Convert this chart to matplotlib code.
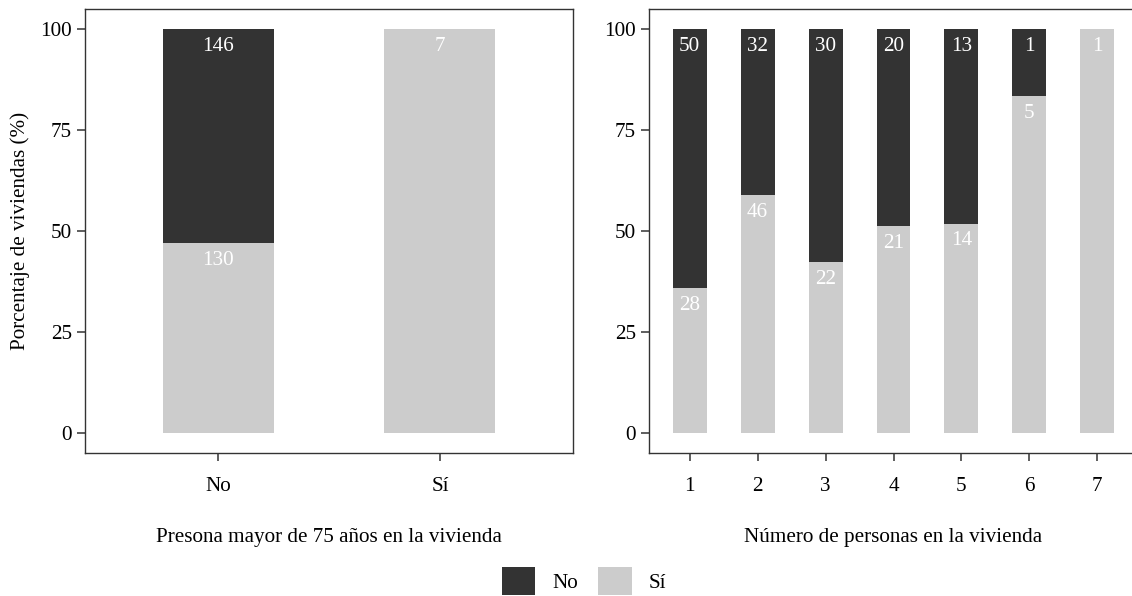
import numpy as np
import matplotlib
matplotlib.use("Agg")
import matplotlib.pyplot as plt
from matplotlib.patches import Patch

plt.rcParams['font.family'] = ['Liberation Serif', 'DejaVu Serif']

# ---- data ----
left_categories = ["No", "Sí"]
left_no_counts = [146, 0]
left_si_counts = [130, 7]

right_categories = ["1", "2", "3", "4", "5", "6", "7"]
right_no_counts = [50, 32, 30, 20, 13, 1, 0]
right_si_counts = [28, 46, 22, 21, 14, 5, 1]

y_ticks = [0, 25, 50, 75, 100]
legend_labels = ["No", "Sí"]
left_xlabel = "Presona mayor de 75 años en la vivienda"
right_xlabel = "Número de personas en la vivienda"
ylabel = "Porcentaje de viviendas (%)"

COL_NO = "#333333"
COL_SI = "#CCCCCC"
FS = 15.2

W, H = 1132, 596
fig = plt.figure(figsize=(W / 100, H / 100), dpi=100)

def px_axes(x0, x1, ytop, ybot):
    return fig.add_axes([x0 / W, 1 - ybot / H, (x1 - x0) / W, (ybot - ytop) / H])

ax1 = px_axes(85, 573, 9, 453)
ax2 = px_axes(649, 1138, 9, 453)

def draw(ax, cats, no_c, si_c, xlabel):
    no_c = np.array(no_c, dtype=float)
    si_c = np.array(si_c, dtype=float)
    tot = no_c + si_c
    si_p = si_c / tot * 100
    no_p = no_c / tot * 100
    x = np.arange(1, len(cats) + 1)
    ax.bar(x, si_p, width=0.5, color=COL_SI, linewidth=0)
    ax.bar(x, no_p, width=0.5, bottom=si_p, color=COL_NO, linewidth=0)
    for xi, sp, np_, sc, nc in zip(x, si_p, no_p, si_c, no_c):
        if nc > 0:
            ax.annotate(f"{int(nc)}", xy=(xi, sp + np_), xytext=(0, -15.8),
                        textcoords="offset points", ha="center", va="baseline",
                        color="white", fontsize=FS)
        if sc > 0:
            ax.annotate(f"{int(sc)}", xy=(xi, sp), xytext=(0, -15.8),
                        textcoords="offset points", ha="center", va="baseline",
                        color="white", fontsize=FS)
    ax.set_xlim(0.4, len(cats) + 0.6)
    ax.set_ylim(-5, 105)
    ax.set_xticks(x)
    ax.set_xticklabels(cats)
    ax.set_yticks(y_ticks)
    ax.set_yticklabels([str(t) for t in y_ticks])
    ax.tick_params(axis="both", length=5.5, width=1.1, color=COL_NO,
                   labelsize=FS, labelcolor="black")
    ax.tick_params(axis="x", pad=11.5)
    ax.tick_params(axis="y", pad=4)
    for s in ax.spines.values():
        s.set_color(COL_NO)
        s.set_linewidth(1.0)
    ax.set_xlabel(xlabel, fontsize=FS, labelpad=23)

draw(ax1, left_categories, left_no_counts, left_si_counts, left_xlabel)
draw(ax2, right_categories, right_no_counts, right_si_counts, right_xlabel)

ax1.set_ylabel(ylabel, fontsize=FS)
ax1.yaxis.set_label_coords((20.5 - 85) / 488, 0.5)
ax1.yaxis.label.set_va("center")

handles = [Patch(facecolor=COL_NO, edgecolor="none"),
           Patch(facecolor=COL_SI, edgecolor="none")]
fig.legend(handles, legend_labels, loc="center", bbox_to_anchor=(584 / W, 1 - 581 / H),
           ncol=2, frameon=False, fontsize=FS, handlelength=1.6, handleheight=1.6,
           handletextpad=0.8, columnspacing=0.95, borderpad=0, borderaxespad=0)

fig.savefig("out.png", dpi=100)
